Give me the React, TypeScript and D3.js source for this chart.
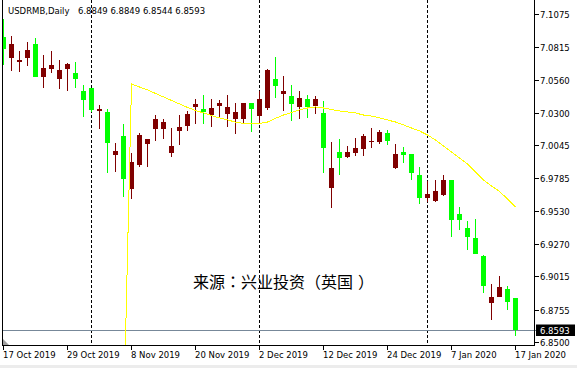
import React, { useEffect } from 'react';
import * as d3 from 'd3';

const dates = [
  '2019-10-17','2019-10-18','2019-10-21','2019-10-22','2019-10-23','2019-10-24','2019-10-25','2019-10-28','2019-10-29','2019-10-30',
  '2019-10-31','2019-11-01','2019-11-04','2019-11-05','2019-11-06','2019-11-07','2019-11-08','2019-11-11','2019-11-12','2019-11-13',
  '2019-11-14','2019-11-15','2019-11-18','2019-11-19','2019-11-20','2019-11-21','2019-11-22','2019-11-25','2019-11-26','2019-11-27',
  '2019-11-28','2019-11-29','2019-12-02','2019-12-03','2019-12-04','2019-12-05','2019-12-06','2019-12-09','2019-12-10','2019-12-11',
  '2019-12-12','2019-12-13','2019-12-16','2019-12-17','2019-12-18','2019-12-19','2019-12-20','2019-12-23','2019-12-24','2019-12-26',
  '2019-12-27','2019-12-30','2019-12-31','2020-01-02','2020-01-03','2020-01-06','2020-01-07','2020-01-08','2020-01-09','2020-01-10',
  '2020-01-13','2020-01-14','2020-01-15','2020-01-16','2020-01-17'
];

const opens = [
  7.0897,7.0732,7.0698,7.0732,7.0842,7.0583,7.0646,7.0565,7.0646,7.0614,
  7.0471,7.0494,7.0314,7.0306,6.9968,7.0117,6.9704,6.9890,7.0057,7.0172,
  7.0172,6.9984,7.0157,7.0196,7.0345,7.0329,7.0282,7.0353,7.0290,7.0251,
  7.0251,7.0376,7.0277,7.0337,7.0565,7.0447,7.0431,7.0347,7.0408,7.0355,
  7.0298,6.9709,6.9992,6.9953,6.9984,7.0015,7.0070,7.0070,7.0141,6.9866,
  6.9992,6.9976,6.9811,6.9631,6.9607,6.9654,6.9772,6.9505,6.9398,6.9319,
  6.9178,6.8809,6.8856,6.8916,6.8849
];
const highs = [
  7.1036,7.0902,7.0785,7.0858,7.0884,7.0753,7.0787,7.0714,7.0693,7.0698,
  7.0518,7.0497,7.0361,7.0329,7.0062,7.0212,6.9982,7.0143,7.0094,7.0282,
  7.0251,7.0180,7.0282,7.0314,7.0408,7.0439,7.0408,7.0400,7.0439,7.0376,
  7.0380,7.0380,7.0471,7.0643,7.0740,7.0588,7.0518,7.0471,7.0439,7.0431,
  7.0392,7.0070,7.0094,7.0039,7.0102,7.0133,7.0180,7.0165,7.0165,7.0055,
  7.0031,6.9978,6.9874,6.9764,6.9772,6.9811,6.9775,6.9560,6.9450,6.9466,
  6.9186,6.8956,6.9021,6.8940,6.8849
];
const lows = [
  7.0675,7.0630,7.0617,7.0667,7.0580,7.0492,7.0610,7.0484,7.0473,7.0497,
  7.0269,7.0308,7.0175,6.9829,6.9837,6.9641,6.9623,6.9872,6.9876,7.0078,
  7.0094,6.9953,7.0047,7.0157,7.0214,7.0212,7.0188,7.0259,7.0188,7.0133,
  7.0212,7.0149,7.0208,7.0322,7.0418,7.0314,7.0235,7.0251,7.0259,7.0290,
  6.9827,6.9552,6.9811,6.9945,6.9957,6.9960,7.0023,7.0055,7.0047,6.9862,
  6.9905,6.9772,6.9584,6.9599,6.9603,6.9650,6.9327,6.9382,6.9225,6.9190,
  6.8887,6.8675,6.8852,6.8754,6.8544
];
const closes = [
  7.0798,7.0842,7.0714,7.0793,7.0583,7.0651,7.0675,7.0636,7.0683,7.0567,
  7.0402,7.0322,7.0329,7.0065,7.0000,6.9782,6.9913,7.0125,7.0094,7.0251,
  7.0227,7.0039,7.0188,7.0290,7.0369,7.0306,7.0337,7.0376,7.0345,7.0306,
  7.0376,7.0329,7.0408,7.0636,7.0512,7.0471,7.0371,7.0416,7.0347,7.0408,
  7.0023,6.9866,6.9945,6.9992,7.0023,7.0117,7.0078,7.0149,7.0078,6.9976,
  6.9968,6.9827,6.9631,6.9662,6.9686,6.9772,6.9460,6.9460,6.9327,6.9194,
  6.8942,6.8856,6.8932,6.8817,6.8593
];
const maValues: (number | null)[] = [
  null,null,null,null,null,null,null,null,null,null,
  null,null,null,null,null,6.785,7.0526,7.0502,7.0479,7.0451,
  7.0424,7.0396,7.0369,7.0341,7.0318,7.0298,7.0278,7.0259,7.0243,7.0227,
  7.0216,7.0212,7.0216,7.0227,7.0256,7.0282,7.0302,7.0322,7.0337,7.0345,
  7.0337,7.0325,7.0314,7.0306,7.0298,7.0282,7.0274,7.0259,7.0243,7.0227,
  7.0204,7.0180,7.0157,7.0125,7.0086,7.0039,6.9992,6.9945,6.9898,6.9835,
  6.9772,6.9725,6.9682,6.9623,6.9560
];
const priceTicks = [7.1075, 7.0815, 7.0560, 7.0300, 7.0045, 6.9785, 6.9530, 6.9270, 6.9015, 6.8755, 6.8500];
const bidPrice = 6.8593;
const separatorDates = ['2019-11-01', '2019-12-02', '2020-01-02'];
const titleText = 'USDRMB,Daily';
const watermark = '来源：兴业投资（英国）';

const W = 577, H = 368;
const plotLeft = 2, plotRight = 534, plotBottom = 345;
const UP = '#800000', DOWN = '#00ff00';
const FONT = "Tahoma, 'DejaVu Sans', sans-serif";

export default function App() {
  useEffect(() => { document.body.style.margin = '0'; }, []);

  const x = d3.scaleLinear().domain([0, dates.length - 1]).range([3.5, 3.5 + 8 * (dates.length - 1)]);
  const y = d3.scaleLinear().domain([6.85, 7.1075]).range([342, 14]);
  const parse = d3.timeParse('%Y-%m-%d');
  const fmt = d3.timeFormat('%-d %b %Y');

  const line = d3.line<number | null>()
    .defined((d) => d != null)
    .x((_, i) => x(i))
    .y((d) => y(d as number));

  const last = dates.length - 1;
  const hdr = `${opens[last].toFixed(4)} ${highs[last].toFixed(4)} ${lows[last].toFixed(4)} ${closes[last].toFixed(4)}`;
  const bidY = Math.round(y(bidPrice)) + 0.5;
  const wmChars = Array.from(watermark);
  const wmShift = (ch: string) => (ch === '）' ? 5 : 0);

  return (
    <svg width={W} height={H} style={{ display: 'block', position: 'absolute', left: 0, top: 0, background: '#fff' }}>
      <defs>
        <clipPath id="plot">
          <rect x={plotLeft} y={0} width={plotRight - plotLeft} height={plotBottom} />
        </clipPath>
      </defs>
      <rect x={0} y={0} width={W} height={H} fill="#fff" />
      <rect x={0} y={365} width={W} height={3} fill="#ececec" />

      {separatorDates.map((d) => {
        const i = dates.indexOf(d);
        return (
          <line key={d} x1={x(i)} x2={x(i)} y1={0} y2={plotBottom} stroke="#000" strokeWidth={1} strokeDasharray="3,2" />
        );
      })}

      <line x1={plotLeft} x2={plotRight + 3} y1={bidY} y2={bidY} stroke="#778899" strokeWidth={1} />

      <g clipPath="url(#plot)">
        {dates.map((d, i) => {
          const o = opens[i], c = closes[i];
          const col = c >= o ? UP : DOWN;
          const top = Math.round(y(Math.max(o, c)));
          const bot = Math.round(y(Math.min(o, c)));
          const cx = x(i);
          return (
            <g key={d}>
              <rect x={cx - 0.5} y={Math.round(y(highs[i]))} width={1} height={Math.max(1, Math.round(y(lows[i])) - Math.round(y(highs[i])))} fill={col} />
              <rect x={cx - 2.5} y={top} width={5} height={Math.max(1, bot - top)} fill={col} />
            </g>
          );
        })}
        <path d={line(maValues) || ''} fill="none" stroke="#ffff00" strokeWidth={1} shapeRendering="crispEdges" />
      </g>

      <line x1={plotLeft + 0.5} x2={plotLeft + 0.5} y1={0} y2={plotBottom + 0.5} stroke="#000" />
      <line x1={plotRight + 0.5} x2={plotRight + 0.5} y1={0} y2={plotBottom + 0.5} stroke="#000" />
      <line x1={plotLeft} x2={plotRight + 1} y1={plotBottom + 0.5} y2={plotBottom + 0.5} stroke="#000" />
      <polygon points={`3,339 3,345 9,345`} fill="#a0a0a0" />

      {priceTicks.map((p) => {
        const ty = Math.round(y(p)) + 0.5;
        return (
          <g key={p}>
            <line x1={plotRight + 1} x2={plotRight + 5} y1={ty} y2={ty} stroke="#000" />
            <text x={540} y={ty + 3.5} fontFamily={FONT} fontSize={8.5} fill="#000">{p.toFixed(4)}</text>
          </g>
        );
      })}
      <rect x={536} y={bidY - 6} width={39} height={11.5} fill="#000" />
      <text x={540} y={bidY + 3.5} fontFamily={FONT} fontSize={8.5} fill="#fff">{bidPrice.toFixed(4)}</text>

      {dates.map((d, i) => {
        if (i % 8 !== 0) return null;
        const tx = Math.round(x(i)) - 0.5;
        return (
          <g key={'t' + d}>
            <line x1={tx} x2={tx} y1={plotBottom} y2={plotBottom + 5} stroke="#000" />
            <text x={tx - 0.5} y={358} fontFamily={FONT} fontSize={8.5} fill="#000">{fmt(parse(d) as Date)}</text>
          </g>
        );
      })}

      <text x={8} y={13.5} fontFamily={FONT} fontSize={8.5} fill="#000">
        {titleText}
        <tspan x={78}>{hdr}</tspan>
      </text>

      <text y={288} fontFamily="'Noto Sans CJK TC', 'Noto Sans CJK SC', sans-serif" fontSize={16} fill="#000">
        {wmChars.map((ch, i) => (
          <tspan key={i} x={193 + i * 16 + wmShift(ch)}>{ch}</tspan>
        ))}
      </text>
    </svg>
  );
}
